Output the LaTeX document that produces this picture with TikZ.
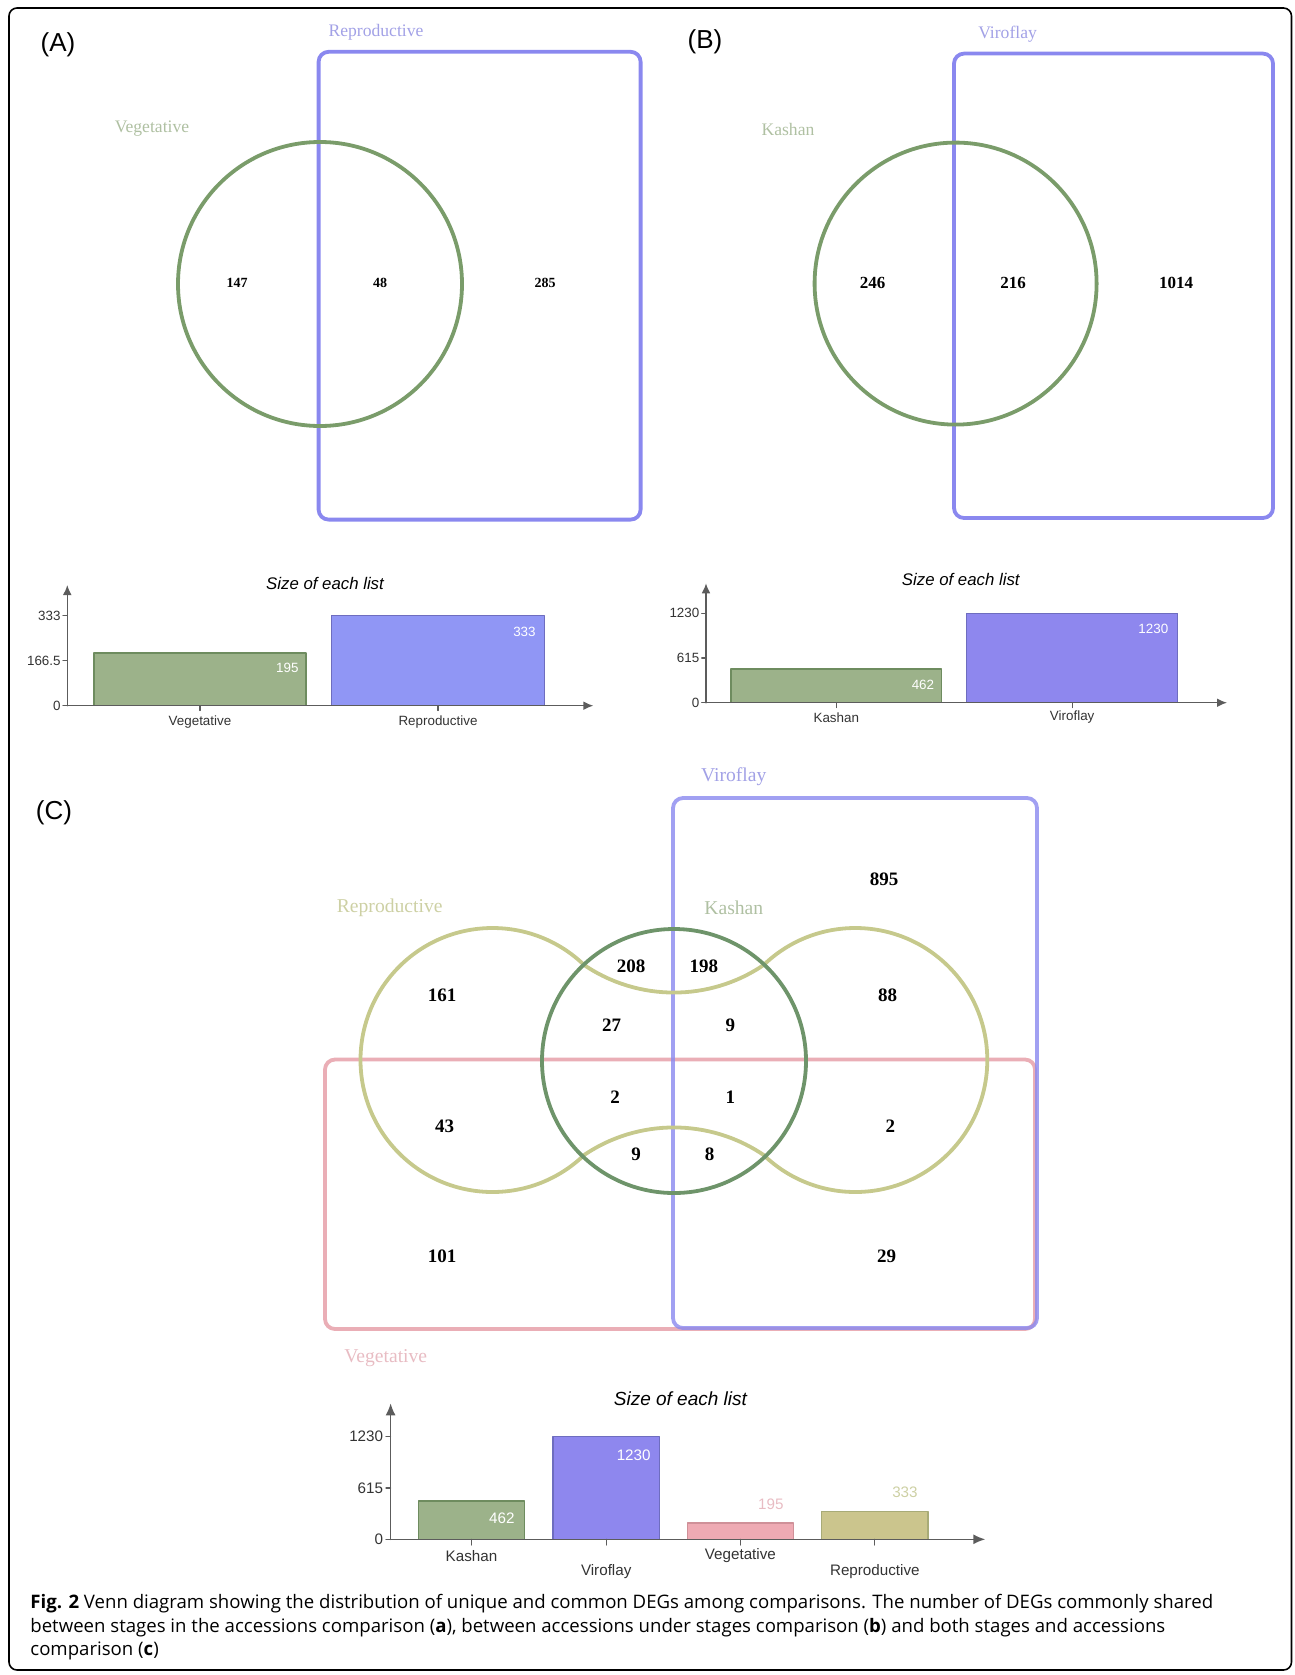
\documentclass[tikz,border=0pt]{standalone}
\usepackage{fontspec}
\setmainfont{Liberation Serif}
\setsansfont{Liberation Sans}
\newfontfamily\capfont{Open Sans}
\usetikzlibrary{arrows.meta,calc,positioning}
\definecolor{dgBlue}{HTML}{8A88EF}
\definecolor{dgBlueTxt}{HTML}{A2A1E6}
\definecolor{dgGreen}{HTML}{7A9C6A}
\definecolor{dgGreenDk}{HTML}{6E946A}
\definecolor{dgGreenTxt}{HTML}{AFC0A2}
\definecolor{dgOlive}{HTML}{C6C98C}
\definecolor{dgOliveTxt}{HTML}{CDD0A4}
\definecolor{dgPink}{HTML}{E6A0A9}
\definecolor{dgPinkTxt}{HTML}{E8BCC3}
\definecolor{dgAxis}{HTML}{5C5C5C}
\definecolor{dgBarGreen}{HTML}{9CB28A}
\definecolor{dgBarBlueA}{HTML}{9096F5}
\definecolor{dgBarBlue}{HTML}{8E87EE}
\definecolor{dgBarPink}{HTML}{EEAAB3}
\definecolor{dgBarOlive}{HTML}{CBC58D}
\tikzset{
 fig/.style={line cap=round,line join=round},
 frame/.style={draw=black,line width=.8pt,rounded corners=4pt},
 setBlue/.style={draw=dgBlue,line width=1.9pt,rounded corners=5pt},
 setGreen/.style={draw=dgGreen,line width=1.9pt},
 setGreenDk/.style={draw=dgGreenDk,line width=1.9pt},
 setOlive/.style={draw=dgOlive,line width=1.9pt},
 setPink/.style={draw=dgPink,line width=1.9pt,rounded corners=5pt},
 panel/.style={font=\sffamily\fontsize{13}{15}\selectfont,inner sep=0pt},
 setlab/.style={font=\fontsize{8.8}{10}\selectfont,inner sep=0pt},
 setlabC/.style={font=\fontsize{9.8}{11}\selectfont,inner sep=0pt},
 numA/.style={font=\fontsize{7}{8}\selectfont\bfseries,inner sep=0pt},
 numB/.style={font=\fontsize{8.5}{10}\selectfont\bfseries,inner sep=0pt},
 numC/.style={font=\fontsize{9.5}{11}\selectfont\bfseries,inner sep=0pt},
 axis/.style={draw=dgAxis,line width=.75pt,-{Latex[length=5pt,width=4.4pt]}},
 tick/.style={draw=dgAxis,line width=.6pt},
 bar/.style={line width=.7pt},
 small/.style={font=\sffamily\fontsize{6.7}{8}\selectfont,inner sep=0pt,text=black!80},
 smallC/.style={font=\sffamily\fontsize{7.6}{9}\selectfont,inner sep=0pt,text=black!80},
 valA/.style={font=\sffamily\fontsize{6.7}{8}\selectfont,inner sep=0pt,anchor=east},
 valC/.style={font=\sffamily\fontsize{7.6}{9}\selectfont,inner sep=0pt,anchor=east},
 title/.style={font=\sffamily\itshape\fontsize{8.4}{10}\selectfont,inner sep=0pt},
 titleC/.style={font=\sffamily\itshape\fontsize{9.5}{11}\selectfont,inner sep=0pt},
 capline/.style={font=\capfont\fontsize{9.3}{11}\selectfont,anchor=base west,inner sep=0pt}
}

\begin{document}
\begin{tikzpicture}[fig,x=.5pt,y=-.5pt]
 \useasboundingbox (0,0) rectangle (1295,1675);
 \draw[frame] (9,8) rectangle (1291.5,1670);

 % (A) vegetative vs reproductive
 \node[panel] (labA) at (58,45) {(A)};
 \draw[setBlue] (318.6,51.8) rectangle (640.6,519.6);
 \draw[setGreen] (320,284) circle[radius=142];
 \node[setlab,text=dgBlueTxt] (repA) at (376,32) {Reproductive};
 \node[setlab,text=dgGreenTxt] (vegA) at (152,128.6) {Vegetative};
 \node[numA] (a147) at (237,283) {147};
 \node[numA] (a48) at (380,283) {48};
 \node[numA] (a285) at (545,283) {285};

 % (B) Kashan vs Viroflay
 \node[panel] (labB) at (705,42) {(B)};
 \draw[setBlue] (954,53.6) rectangle (1273,518);
 \draw[setGreen] (955.6,283.6) circle[radius=141];
 \node[setlab,text=dgBlueTxt] (virB) at (1007.6,34) {Viroflay};
 \node[setlab,text=dgGreenTxt] (kasB) at (788,129) {Kashan};
 \node[numB] (b246) at (872.7,283) {246};
 \node[numB] (b216) at (1013,283) {216};
 \node[numB] (b1014) at (1176,283) {1014};

 % size of each list, A
 \coordinate (oA) at (67.3,705.7);
 \node[title] (tA) at (325,583.3) {Size of each list};
 \draw[bar,draw=dgGreen!90!black,fill=dgBarGreen] (94,705.7) rectangle (306,653);
 \draw[bar,draw=dgBlue!80!black,fill=dgBarBlueA] (331.6,705.7) rectangle (544.2,615.7);
 \draw[axis] (oA) -- (67.3,585);
 \draw[axis] (oA) -- (593.4,705.7);
 \foreach \yy/\tt in {705.7/0,660.7/166.5,615.7/333}{
   \draw[tick] (63,\yy) -- (67.3,\yy);
   \node[small,anchor=east] at (61,\yy) {\tt};}
 \foreach \xx in {200,437.9} \draw[tick] (\xx,705.7) -- (\xx,710.5);
 \node[valA,text=white] (vA195) at (299,668.3) {195};
 \node[valA,text=white] (vA333) at (536,631.7) {333};
 \node[small] (xAveg) at (200,721.7) {Vegetative};
 \node[small] (xArep) at (438,721.7) {Reproductive};

 % size of each list, B
 \coordinate (oB) at (706,702.7);
 \node[title] (tB) at (960.8,579.3) {Size of each list};
 \draw[bar,draw=dgGreen!90!black,fill=dgBarGreen] (731,702.7) rectangle (941.6,669.1);
 \draw[bar,draw=dgBlue!80!black,fill=dgBarBlue] (966.7,702.7) rectangle (1177.6,613.3);
 \draw[axis] (oB) -- (706,583.3);
 \draw[axis] (oB) -- (1227,702.7);
 \foreach \yy/\tt in {702.7/0,658/615,613.3/1230}{
   \draw[tick] (701.7,\yy) -- (706,\yy);
   \node[small,anchor=east] at (699.7,\yy) {\tt};}
 \foreach \xx in {836.3,1072.2} \draw[tick] (\xx,702.7) -- (\xx,707.5);
 \node[valA,text=white] (vB462) at (934.5,685) {462};
 \node[valA,text=white] (vB1230) at (1168.6,629) {1230};
 \node[small] (xBkas) at (836.3,717.3) {Kashan};
 \node[small] (xBvir) at (1072.2,717.3) {Viroflay};

 % (C) stages and accessions
 \node[panel] (labC) at (54,813) {(C)};
 \coordinate (cL) at (492.5,1060);
 \coordinate (cR) at (855.5,1060);
 \coordinate (cM) at (674,1061);
 \draw[setPink,draw opacity=.85] (325,1059.5) rectangle (1035,1329);
 \draw[setBlue,draw opacity=.8] (673,798) rectangle (1037,1328);
 \draw[setOlive] ($(cL)+(-46:132)$) arc[start angle=-46,end angle=-314,radius=132]
   arc[start angle=-124.1,end angle=-55.9,radius=160]
   arc[start angle=134,end angle=-134,radius=132]
   arc[start angle=55.9,end angle=124.1,radius=160] -- cycle;
 \draw[setGreenDk] (cM) circle[radius=132];
 \node[setlabC,text=dgBlueTxt] (virC) at (733.8,777) {Viroflay};
 \node[setlabC,text=dgOliveTxt] (repC) at (389.7,907.7) {Reproductive};
 \node[setlabC,text=dgGreenTxt] (kasC) at (733.8,907.7) {Kashan};
 \node[setlabC,text=dgPinkTxt] (vegC) at (385.8,1358) {Vegetative};
 \node[numC] (c895) at (884,879.4) {895};
 \node[numC] (c208) at (631,966.6) {208};
 \node[numC] (c198) at (703.8,966.6) {198};
 \node[numC] (c161) at (442,995) {161};
 \node[numC] (c88) at (887.5,995) {88};
 \node[numC] (c27) at (611.7,1024.8) {27};
 \node[numC] (c9a) at (730.4,1024.8) {9};
 \node[numC] (c2a) at (615,1097.5) {2};
 \node[numC] (c1) at (730.4,1097.5) {1};
 \node[numC] (c43) at (444.5,1126.2) {43};
 \node[numC] (c2b) at (890.4,1126.2) {2};
 \node[numC] (c9b) at (636,1154.5) {9};
 \node[numC] (c8) at (709.6,1154.5) {8};
 \node[numC] (c101) at (442,1256) {101};
 \node[numC] (c29) at (886.5,1256) {29};

 % size of each list, C
 \coordinate (oC) at (390.6,1539.3);
 \node[titleC] (tC) at (680.4,1398.3) {Size of each list};
 \draw[bar,draw=dgGreen!90!black,fill=dgBarGreen] (418.3,1539.3) rectangle (524.6,1500.8);
 \draw[bar,draw=dgBlue!80!black,fill=dgBarBlue] (553,1539.3) rectangle (659.4,1436.7);
 \draw[bar,draw=dgPink!90!black,fill=dgBarPink] (687.5,1539.3) rectangle (793.3,1523);
 \draw[bar,draw=dgOlive!85!black,fill=dgBarOlive] (821.4,1539.3) rectangle (928.1,1511.5);
 \draw[axis,-{Latex[length=6pt,width=5pt]}] (oC) -- (390.6,1403.3);
 \draw[axis,-{Latex[length=6pt,width=5pt]}] (oC) -- (985.3,1539.3);
 \foreach \yy/\tt in {1539.3/0,1488/615,1436.7/1230}{
   \draw[tick] (386,\yy) -- (390.6,\yy);
   \node[smallC,anchor=east] at (383.5,\yy) {\tt};}
 \foreach \xx in {471.5,606.2,740.4,874.8} \draw[tick] (\xx,1539.3) -- (\xx,1545);
 \node[valC,text=white] (vC462) at (515,1518.3) {462};
 \node[valC,text=white] (vC1230) at (651,1455) {1230};
 \node[valC,text=dgPinkTxt] (vC195) at (784,1504) {195};
 \node[valC,text=dgOliveTxt] (vC333) at (918,1492.3) {333};
 \node[smallC] (xCkas) at (471.5,1556) {Kashan};
 \node[smallC] (xCvir) at (606.2,1571.7) {Viroflay};
 \node[smallC] (xCveg) at (740.4,1556) {Vegetative};
 \node[smallC] (xCrep) at (874.8,1571.7) {Reproductive};

 % caption
 \node[capline] (cap1) at (30,1608.5) {\textbf{Fig. 2} Venn diagram showing the distribution of unique and common DEGs among comparisons. The number of DEGs commonly shared};
 \node[capline] (cap2) at (30,1632) {between stages in the accessions comparison (\textbf{a}), between accessions under stages comparison (\textbf{b}) and both stages and accessions};
 \node[capline] (cap3) at (30,1655.5) {comparison (\textbf{c})};
\end{tikzpicture}
\end{document}
